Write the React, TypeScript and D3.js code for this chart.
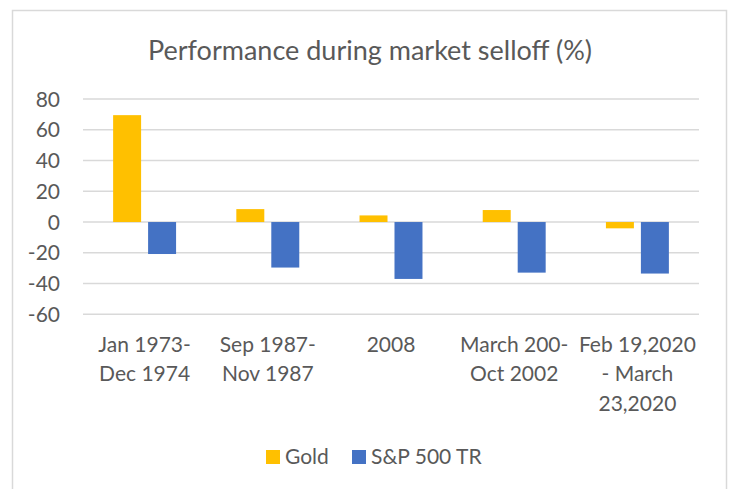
import React, { useEffect, useRef } from "react";
import * as d3 from "d3";

const categories = [
  ["Jan 1973-", "Dec 1974"],
  ["Sep 1987-", "Nov 1987"],
  ["2008"],
  ["March 200-", "Oct 2002"],
  ["Feb 19,2020", "- March", "23,2020"],
];
const seriesNames = ["Gold", "S&P 500 TR"];
const gold = [69.5, 8.4, 4.3, 7.8, -4.1];
const sp500 = [-20.8, -29.6, -37, -32.9, -33.5];
const yTicks = [80, 60, 40, 20, 0, -20, -40, -60];

const colors = ["#FFC000", "#4472C4"];
const FONT = "Lato, 'Open Sans', sans-serif";
const textColor = "#595959";

const App = () => {
  const ref = useRef<SVGSVGElement>(null);

  useEffect(() => {
    const svg = d3.select(ref.current);
    svg.selectAll("*").remove();

    const W = 731, H = 489;
    const left = 83, right = 699, top = 99, bottom = 314.3;

    // chart frame
    svg.append("rect")
      .attr("x", 12.5).attr("y", 10.5)
      .attr("width", 714).attr("height", H + 10)
      .attr("fill", "white").attr("stroke", "#d9d9d9").attr("stroke-width", 1.5);

    svg.append("text")
      .attr("x", 370).attr("y", 60)
      .attr("text-anchor", "middle")
      .attr("font-family", FONT).attr("font-size", 27)
      .attr("fill", textColor)
      .text("Performance during market selloff (%)");

    const y = d3.scaleLinear().domain([-60, 80]).range([bottom, top]);
    const x0 = d3.scaleBand<number>()
      .domain(categories.map((_, i) => i))
      .range([left, right]);
    const bw = x0.bandwidth();
    const groupW = bw * 0.511;
    const x1 = d3.scaleBand<string>()
      .domain(seriesNames)
      .range([bw / 2 - groupW / 2, bw / 2 + groupW / 2])
      .paddingInner(0.2);

    // gridlines
    svg.append("g").selectAll("line").data(yTicks).join("line")
      .attr("x1", left).attr("x2", right)
      .attr("y1", d => y(d)).attr("y2", d => y(d))
      .attr("stroke", "#d9d9d9").attr("stroke-width", 1.5);

    // y tick labels
    svg.append("g").selectAll("text").data(yTicks).join("text")
      .attr("x", 60).attr("y", d => y(d))
      .attr("dy", "0.36em")
      .attr("text-anchor", "end")
      .attr("font-family", FONT).attr("font-size", 21)
      .attr("fill", textColor)
      .text(d => d);

    const values = [gold, sp500];
    values.forEach((vals, s) => {
      svg.append("g").selectAll("rect").data(vals).join("rect")
        .attr("x", (_, i) => (x0(i) as number) + (x1(seriesNames[s]) as number))
        .attr("width", x1.bandwidth())
        .attr("y", d => y(Math.max(0, d)))
        .attr("height", d => Math.abs(y(d) - y(0)))
        .attr("fill", colors[s]);
    });

    // category labels
    const cat = svg.append("g").selectAll("text").data(categories).join("text")
      .attr("text-anchor", "middle")
      .attr("font-family", FONT).attr("font-size", 21)
      .attr("fill", textColor);
    cat.selectAll("tspan").data((d, i) => d.map(line => ({ line, i }))).join("tspan")
      .attr("x", d => (x0(d.i) as number) + bw / 2)
      .attr("y", (_, j) => 352 + j * 29.3)
      .text(d => d.line);

    // legend
    const legendX = [266, 352];
    seriesNames.forEach((name, s) => {
      svg.append("rect")
        .attr("x", legendX[s]).attr("y", 450)
        .attr("width", 14).attr("height", 14)
        .attr("fill", colors[s]);
      svg.append("text")
        .attr("x", legendX[s] + 19).attr("y", 464)
        .attr("font-family", FONT).attr("font-size", 21)
        .attr("fill", textColor)
        .text(name);
    });
  }, []);

  return (
    <svg ref={ref} width={731} height={489}
      style={{ position: "absolute", left: 0, top: 0, background: "white" }} />
  );
};

export default App;
